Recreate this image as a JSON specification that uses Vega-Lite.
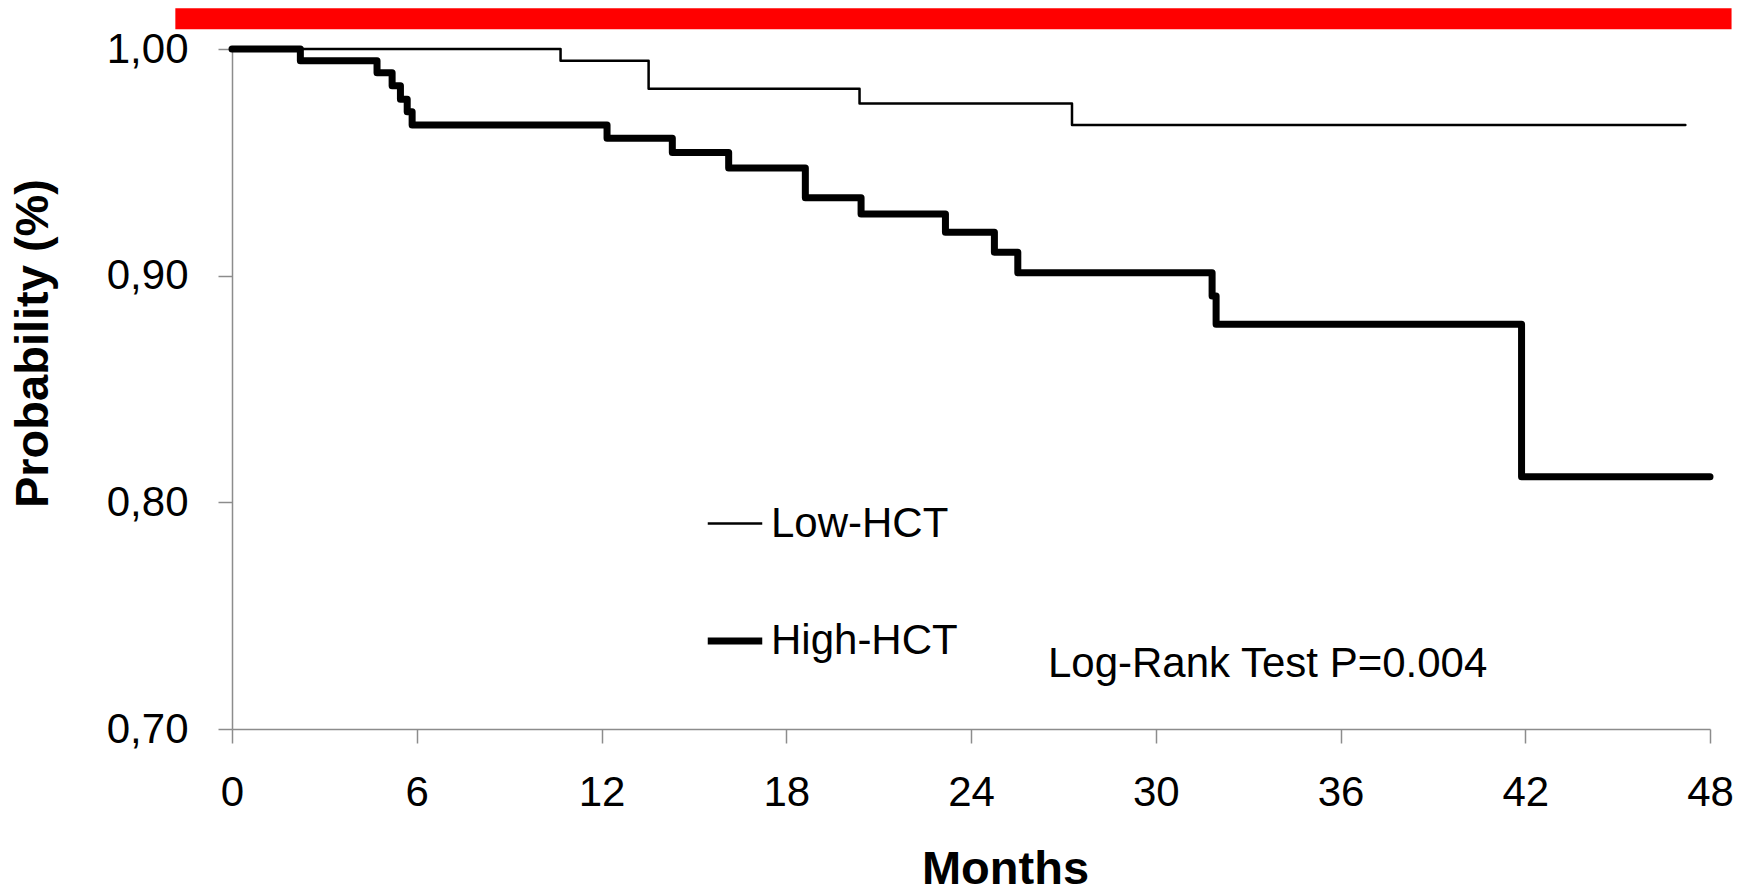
{
  "$schema": "https://vega.github.io/schema/vega-lite/v6.json",
  "autosize": {"type": "none"},
  "padding": {"left": 232, "top": 49, "right": 36, "bottom": 163},
  "width": 1478,
  "height": 680,
  "background": "white",
  "config": {
    "view": {"stroke": null},
    "font": "Liberation Sans",
    "axis": {"grid": false, "domainColor": "#8c8c8c", "tickColor": "#8c8c8c", "domainWidth": 1.5, "tickWidth": 1.5, "labelColor": "black", "titleColor": "black"}
  },
  "layer": [
    {
      "data": {"values": [{"band": "top"}]},
      "mark": {"type": "rect", "color": "#ff0000"},
      "encoding": {
        "x": {"datum": -1.84},
        "x2": {"datum": 48.7},
        "y": {"datum": 1.01795},
        "y2": {"datum": 1.00869}
      }
    },
    {
      "data": {"values": [
        {"series": "Low-HCT", "month": 0, "p": 1.0},
        {"series": "Low-HCT", "month": 10.67, "p": 0.9948},
        {"series": "Low-HCT", "month": 13.53, "p": 0.9825},
        {"series": "Low-HCT", "month": 20.38, "p": 0.976},
        {"series": "Low-HCT", "month": 27.28, "p": 0.9665},
        {"series": "Low-HCT", "month": 47.2, "p": 0.9665},
        {"series": "High-HCT", "month": 0, "p": 1.0},
        {"series": "High-HCT", "month": 2.22, "p": 0.9948},
        {"series": "High-HCT", "month": 4.71, "p": 0.9895},
        {"series": "High-HCT", "month": 5.2, "p": 0.9838},
        {"series": "High-HCT", "month": 5.47, "p": 0.9778},
        {"series": "High-HCT", "month": 5.69, "p": 0.9723},
        {"series": "High-HCT", "month": 5.85, "p": 0.9665},
        {"series": "High-HCT", "month": 12.18, "p": 0.9606},
        {"series": "High-HCT", "month": 14.3, "p": 0.9543},
        {"series": "High-HCT", "month": 16.13, "p": 0.9475},
        {"series": "High-HCT", "month": 18.62, "p": 0.9344},
        {"series": "High-HCT", "month": 20.43, "p": 0.9272},
        {"series": "High-HCT", "month": 23.17, "p": 0.9191},
        {"series": "High-HCT", "month": 24.76, "p": 0.9103},
        {"series": "High-HCT", "month": 25.52, "p": 0.9013},
        {"series": "High-HCT", "month": 31.83, "p": 0.891},
        {"series": "High-HCT", "month": 31.96, "p": 0.8786},
        {"series": "High-HCT", "month": 41.88, "p": 0.8113},
        {"series": "High-HCT", "month": 48, "p": 0.8113}
      ]},
      "mark": {"type": "line", "interpolate": "step-after", "color": "black", "strokeJoin": "round", "strokeCap": "round"},
      "encoding": {
        "x": {
          "field": "month", "type": "quantitative",
          "scale": {"domain": [0, 48], "nice": false, "zero": false},
          "axis": {
            "values": [0, 6, 12, 18, 24, 30, 36, 42, 48],
            "title": "Months",
            "titleFont": "Liberation Sans", "titleFontSize": 47, "titleFontWeight": "bold",
            "titleX": 773, "titleY": 154, "titleAlign": "center", "titleBaseline": "alphabetic",
            "labelFontSize": 42, "labelFont": "Liberation Sans",
            "tickSize": 14, "labelPadding": 29, "labelFlush": false, "labelOverlap": false
          }
        },
        "y": {
          "field": "p", "type": "quantitative",
          "scale": {"domain": [0.7, 1.0], "nice": false, "zero": false},
          "axis": {
            "values": [0.7, 0.8, 0.9, 1.0],
            "labelExpr": "replace(format(datum.value, '.2f'), '.', ',')",
            "title": "Probability (%)",
            "titleFont": "Liberation Sans", "titleFontSize": 47, "titleFontWeight": "bold",
            "titleAngle": -90, "titleX": -185, "titleY": 294, "titleAlign": "center", "titleBaseline": "alphabetic",
            "titleLimit": 0,
            "labelFontSize": 42, "labelFont": "Liberation Sans",
            "tickSize": 14, "labelPadding": 30, "labelFlush": false, "labelOverlap": false
          }
        },
        "strokeWidth": {
          "field": "series", "type": "ordinal",
          "scale": {"domain": ["Low-HCT", "High-HCT"], "range": [2.5, 7]},
          "legend": {
            "title": null,
            "orient": "none",
            "legendX": 472,
            "legendY": 446,
            "padding": 0,
            "symbolType": "stroke",
            "symbolSize": 2970,
            "symbolStrokeColor": "black",
            "labelFont": "Liberation Sans",
            "labelFontSize": 42,
            "labelColor": "black",
            "labelLimit": 0,
            "labelOffset": 5,
            "rowPadding": 65
          }
        }
      }
    },
    {
      "data": {"values": [{"label": "Log-Rank Test P=0.004"}]},
      "mark": {"type": "text", "align": "left", "baseline": "alphabetic", "fontSize": 42, "font": "Liberation Sans", "fontWeight": "normal", "fill": "black"},
      "encoding": {
        "text": {"field": "label"},
        "x": {"datum": 26.5},
        "y": {"datum": 0.7231}
      }
    }
  ]
}
